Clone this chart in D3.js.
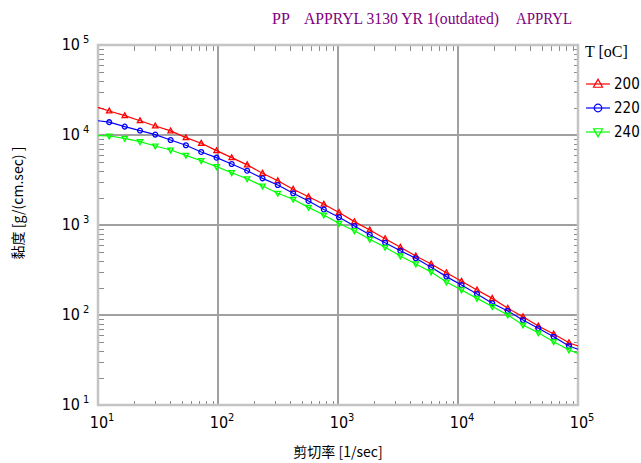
<!DOCTYPE html>
<html>
<head>
<meta charset="utf-8">
<script src="https://d3js.org/d3.v7.min.js"></script>
<style>
    body { margin: 0; background: #fff; }
    svg { display: block; }
    .tick-num { font-family: "Liberation Sans Narrow", "DejaVu Sans Condensed", "Liberation Sans", sans-serif; font-size: 16px; fill: #000; }
    .tick-exp { font-family: "Liberation Sans Narrow", "DejaVu Sans Condensed", "Liberation Sans", sans-serif; font-size: 11px; fill: #000; }
    .title { font-family: "Liberation Serif", serif; font-size: 16px; fill: #800080; }
    .axis-label { font-family: "Noto Sans CJK SC", "Noto Sans CJK JP", sans-serif; font-size: 14px; fill: #000; }
</style>
</head>
<body>
<svg id="chart"></svg>
<script>
    // shear rate [1/sec]
    var shearRate = [10, 12.4, 16.7, 22.4, 30.0, 40.3, 54.0, 72.5, 97.3, 130, 175,
        235, 315, 423, 568, 762, 1020, 1370, 1840, 2470, 3310,
        4450, 5970, 8010, 10700, 14400, 19300, 26000, 34800, 46700, 62700,
        84100, 100000];

    // viscosity [g/(cm.sec)] per temperature
    var visc200 = [20300, 18500, 16400, 14400, 12600, 11100, 9340, 8090, 6700, 5600, 4660,
        3750, 3100, 2490, 2060, 1700, 1380, 1090, 880, 705, 565,
        453, 369, 295, 237, 190, 153, 119, 95.8, 75.5, 61.5,
        49.2, 45.3];
    var visc220 = [14400, 13900, 12400, 11200, 10100, 8800, 7690, 6480, 5600, 4760, 4010,
        3300, 2780, 2250, 1850, 1490, 1220, 975, 780, 636, 518,
        427, 339, 267, 215, 171, 135, 111, 88, 71.1, 57.4,
        45.3, 41.6];
    var visc240 = [9820, 9750, 9180, 8430, 7550, 6810, 5940, 5180, 4450, 3810, 3260,
        2710, 2250, 1930, 1570, 1290, 1040, 865, 693, 565, 453,
        369, 301, 232, 190, 153, 124, 100, 77.4, 63.5, 50.5,
        40.8, 37.5];

    var temps = ["200", "220", "240"];
    var colors = ["#ff0000", "#0000ff", "#00ff00"];
    var markers = ["up", "circle", "down"];

    var xTickExps = [1, 2, 3, 4, 5];
    var yTickExps = [1, 2, 3, 4, 5];

    var width = 641, height = 463;
    var plot = { left: 98, right: 578, top: 45, bottom: 405 };

    var svg = d3.select("#chart")
        .attr("width", width)
        .attr("height", height);

    var x = d3.scaleLog()
        .domain([10, 100000])
        .range([plot.left, plot.right]);

    var y = d3.scaleLog()
        .domain([10, 100000])
        .range([plot.bottom, plot.top]);

    // minor ticks (inside frame)
    var minorX = x.ticks().filter(function (d) { return Math.abs(Math.log10(d) % 1) > 1e-6; });
    var minorY = y.ticks().filter(function (d) { return Math.abs(Math.log10(d) % 1) > 1e-6; });

    var tickColor = "#8c8c8c";
    var ticks = svg.append("g").attr("stroke", tickColor).attr("stroke-width", 1);

    ticks.selectAll(".mxb").data(minorX).enter().append("line")
        .attr("x1", function (d) { return Math.round(x(d)) + 0.5; })
        .attr("x2", function (d) { return Math.round(x(d)) + 0.5; })
        .attr("y1", plot.bottom).attr("y2", plot.bottom - 4);
    ticks.selectAll(".mxt").data(minorX).enter().append("line")
        .attr("x1", function (d) { return Math.round(x(d)) + 0.5; })
        .attr("x2", function (d) { return Math.round(x(d)) + 0.5; })
        .attr("y1", plot.top).attr("y2", plot.top + 6);
    ticks.selectAll(".myl").data(minorY).enter().append("line")
        .attr("y1", function (d) { return Math.round(y(d)) + 0.5; })
        .attr("y2", function (d) { return Math.round(y(d)) + 0.5; })
        .attr("x1", plot.left).attr("x2", plot.left + 6);
    ticks.selectAll(".myr").data(minorY).enter().append("line")
        .attr("y1", function (d) { return Math.round(y(d)) + 0.5; })
        .attr("y2", function (d) { return Math.round(y(d)) + 0.5; })
        .attr("x1", plot.right).attr("x2", plot.right - 4);

    // decade grid
    var grid = svg.append("g").attr("stroke", "#a0a0a0").attr("stroke-width", 2);
    grid.selectAll(".gx").data(xTickExps.slice(1, -1)).enter().append("line")
        .attr("x1", function (d) { return x(Math.pow(10, d)); })
        .attr("x2", function (d) { return x(Math.pow(10, d)); })
        .attr("y1", plot.top).attr("y2", plot.bottom);
    grid.selectAll(".gy").data(yTickExps.slice(1, -1)).enter().append("line")
        .attr("y1", function (d) { return y(Math.pow(10, d)); })
        .attr("y2", function (d) { return y(Math.pow(10, d)); })
        .attr("x1", plot.left).attr("x2", plot.right);

    // frame
    svg.append("rect")
        .attr("x", plot.left).attr("y", plot.top)
        .attr("width", plot.right - plot.left)
        .attr("height", plot.bottom - plot.top)
        .attr("fill", "none")
        .attr("stroke", "#c4c4c4")
        .attr("stroke-width", 2.5);

    // tick labels
    var xl = svg.append("g");
    xTickExps.forEach(function (e) {
        var px = x(Math.pow(10, e));
        xl.append("text").attr("class", "tick-num")
            .attr("x", px + 1).attr("y", 428)
            .attr("text-anchor", "middle").text("10");
        xl.append("text").attr("class", "tick-exp")
            .attr("x", px + 10).attr("y", 421).text(e);
    });
    var yl = svg.append("g");
    yTickExps.forEach(function (e) {
        var py = y(Math.pow(10, e));
        yl.append("text").attr("class", "tick-num")
            .attr("x", 80).attr("y", py + 5)
            .attr("text-anchor", "end").text("10");
        yl.append("text").attr("class", "tick-exp")
            .attr("x", 83).attr("y", py - 2).text(e);
    });

    // curves
    var series = [visc200, visc220, visc240];
    var line = d3.line()
        .x(function (d) { return x(d[0]); })
        .y(function (d) { return y(d[1]); });

    function markerPath(type, s) {
        if (type === "circle") {
            return d3.symbol().type(d3.symbolCircle).size(Math.PI * s * s)();
        }
        var h = s * 1.8, w = s;
        if (type === "up") return "M0," + (-h * 0.6) + "L" + w + "," + (h * 0.4) + "L" + (-w) + "," + (h * 0.4) + "Z";
        return "M0," + (h * 0.6) + "L" + w + "," + (-h * 0.4) + "L" + (-w) + "," + (-h * 0.4) + "Z";
    }

    series.forEach(function (vals, i) {
        var pts = shearRate.map(function (r, j) { return [r, vals[j]]; });
        svg.append("path")
            .datum(pts)
            .attr("fill", "none")
            .attr("stroke", colors[i])
            .attr("stroke-width", 1.2)
            .attr("d", line);
        svg.append("g").selectAll("path")
            .data(pts.slice(1, -1))
            .enter().append("path")
            .attr("transform", function (d) { return "translate(" + x(d[0]) + "," + y(d[1]) + ")"; })
            .attr("d", markerPath(markers[i], markers[i] === "circle" ? 2.4 : 2.7))
            .attr("fill", "none")
            .attr("stroke", colors[i])
            .attr("stroke-width", 1.3);
    });

    // title
    svg.append("text").attr("class", "title").attr("x", 272).attr("y", 24).text("PP");
    svg.append("text").attr("class", "title").attr("x", 304).attr("y", 24)
        .attr("textLength", 195).attr("lengthAdjust", "spacingAndGlyphs")
        .text("APPRYL 3130 YR 1(outdated)");
    svg.append("text").attr("class", "title").attr("x", 516).attr("y", 24)
        .attr("textLength", 56).attr("lengthAdjust", "spacingAndGlyphs")
        .text("APPRYL");

    // legend
    var legend = svg.append("g");
    legend.append("text")
        .attr("x", 585).attr("y", 57)
        .style("font-family", "Liberation Serif, serif")
        .style("font-size", "16px")
        .text("T [oC]");
    temps.forEach(function (t, i) {
        var ly = 84 + i * 24;
        legend.append("line")
            .attr("x1", 586).attr("x2", 610)
            .attr("y1", ly).attr("y2", ly)
            .attr("stroke", colors[i]).attr("stroke-width", 1.2);
        legend.append("path")
            .attr("transform", "translate(598," + ly + ")")
            .attr("d", markerPath(markers[i], markers[i] === "circle" ? 3.8 : 4.5))
            .attr("fill", "none")
            .attr("stroke", colors[i])
            .attr("stroke-width", 1.2);
        legend.append("text").attr("class", "tick-num")
            .attr("x", 614).attr("y", ly + 5)
            .style("font-size", "15px")
            .text(t);
    });

    // axis titles
    svg.append("text").attr("class", "axis-label")
        .attr("x", 338).attr("y", 457)
        .attr("text-anchor", "middle")
        .text("剪切率 [1/sec]");
    svg.append("text").attr("class", "axis-label")
        .attr("transform", "translate(23,203) rotate(-90)")
        .attr("text-anchor", "middle")
        .text("黏度 [g/(cm.sec) ]");
</script>
</body>
</html>
